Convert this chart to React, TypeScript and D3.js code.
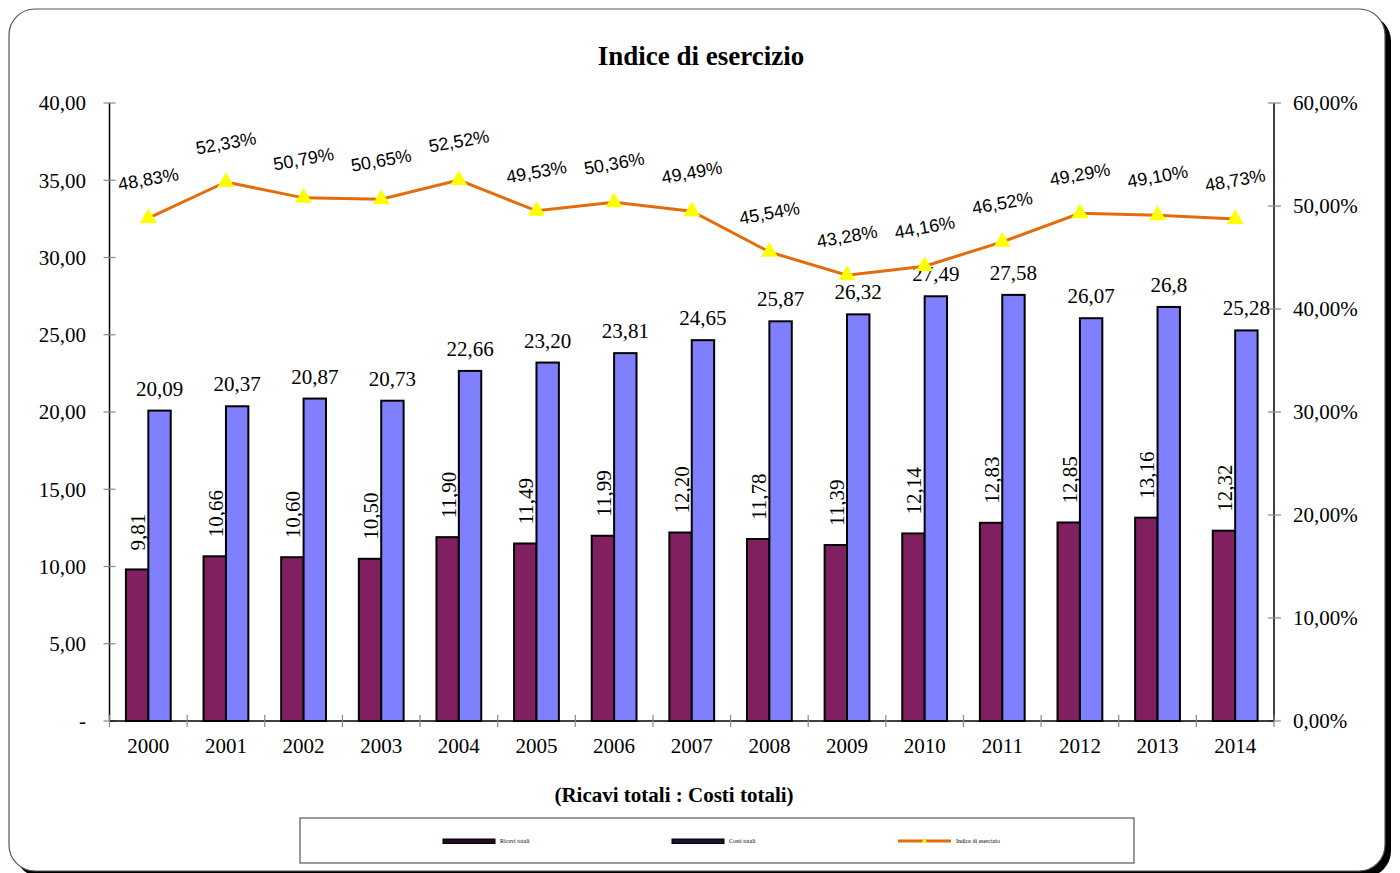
import React from "react";
import * as d3 from "d3";

const years = ["2000","2001","2002","2003","2004","2005","2006","2007","2008","2009","2010","2011","2012","2013","2014"];
const ricavi = [9.81,10.66,10.60,10.50,11.90,11.49,11.99,12.20,11.78,11.39,12.14,12.83,12.85,13.16,12.32];
const costi = [20.09,20.37,20.87,20.73,22.66,23.20,23.81,24.65,25.87,26.32,27.49,27.58,26.07,26.8,25.28];
const costiLabels = ["20,09","20,37","20,87","20,73","22,66","23,20","23,81","24,65","25,87","26,32","27,49","27,58","26,07","26,8","25,28"];
const indice = [48.83,52.33,50.79,50.65,52.52,49.53,50.36,49.49,45.54,43.28,44.16,46.52,49.29,49.10,48.73];
const leftTicks = [0,5,10,15,20,25,30,35,40];
const rightTicks = [0,10,20,30,40,50,60];

const W = 1400, H = 873;
const L = 109.5, R = 1274, T = 103, B = 721;

const fmt2 = (v: number) => d3.format(".2f")(v).replace(".", ",");

export default function App() {
  const x = d3.scaleBand<string>().domain(years).range([L, R]).paddingInner(0).paddingOuter(0);
  const yL = d3.scaleLinear().domain([0, 40]).range([B, T]);
  const yR = d3.scaleLinear().domain([0, 60]).range([B, T]);
  const bw = 22.4;
  const cx = (y: string) => (x(y) as number) + x.bandwidth() / 2;
  const line = d3.line<number>().x((_, i) => cx(years[i])).y((d) => yR(d));
  const tri = d3.symbol().type(d3.symbolTriangle).size(125)() as string;
  const serif = "'Liberation Serif', 'Times New Roman', serif";
  const sans = "'Liberation Sans', Arial, sans-serif";
  const boundaries = d3.range(years.length + 1).map((i) => L + i * x.bandwidth());

  return (
    <svg width={W} height={H} style={{ position: "absolute", left: 0, top: 0 }} xmlns="http://www.w3.org/2000/svg">
      <rect x={0} y={0} width={W} height={H} fill="#fff" />
      <rect x={15} y={15} width={1376} height={862} rx={26} ry={26} fill="#000" />
      <rect x={9} y={9} width={1376} height={862} rx={26} ry={26} fill="#fff" stroke="#555" strokeWidth={1.2} />
      <text x={701} y={65} textAnchor="middle" fontFamily={serif} fontWeight="bold" fontSize={27}>Indice di esercizio</text>

      {/* left axis */}
      <line x1={L} x2={L} y1={T} y2={B} stroke="#000" strokeWidth={1.5} />
      {leftTicks.map((t) => (
        <g key={"l" + t}>
          <line x1={L - 6} x2={L + 6} y1={yL(t)} y2={yL(t)} stroke="#888" strokeWidth={1.2} />
          <text x={86} y={yL(t)} dy="0.35em" textAnchor="end" fontFamily={serif} fontSize={21}>{t === 0 ? "-" : fmt2(t)}</text>
        </g>
      ))}
      {/* right axis */}
      <line x1={R} x2={R} y1={T} y2={B} stroke="#000" strokeWidth={1.5} />
      {rightTicks.map((t) => (
        <g key={"r" + t}>
          <line x1={R - 6} x2={R + 7} y1={yR(t)} y2={yR(t)} stroke="#888" strokeWidth={1.2} />
          <text x={1293} y={yR(t)} dy="0.35em" textAnchor="start" fontFamily={serif} fontSize={21}>{fmt2(t) + "%"}</text>
        </g>
      ))}

      {/* bars */}
      {years.map((yr, i) => (
        <g key={"b" + yr}>
          <rect x={cx(yr) - bw} y={yL(ricavi[i])} width={bw} height={B - yL(ricavi[i])} fill="#802060" stroke="#000" strokeWidth={2} />
          <rect x={cx(yr)} y={yL(costi[i])} width={bw} height={B - yL(costi[i])} fill="#8080FF" stroke="#000" strokeWidth={2} />
        </g>
      ))}

      {/* x axis */}
      <line x1={L} x2={R} y1={B} y2={B} stroke="#000" strokeWidth={1.5} />
      {boundaries.map((bx, i) => (
        <line key={"xt" + i} x1={bx} x2={bx} y1={B - 6} y2={B + 6} stroke="#888" strokeWidth={1.2} />
      ))}
      {years.map((yr) => (
        <text key={"xl" + yr} x={cx(yr)} y={753} textAnchor="middle" fontFamily={serif} fontSize={21}>{yr}</text>
      ))}

      {/* bar labels */}
      {years.map((yr, i) => (
        <g key={"bl" + yr}>
          <text x={cx(yr) + bw / 2} y={yL(costi[i]) - 15} textAnchor="middle" fontFamily={serif} fontSize={21}>{costiLabels[i]}</text>
          <text transform={`translate(${cx(yr) - bw / 2 + 8},${yL(ricavi[i]) - 19}) rotate(-90)`} textAnchor="start" fontFamily={serif} fontSize={21}>{fmt2(ricavi[i])}</text>
        </g>
      ))}

      {/* line */}
      <path d={line(indice) as string} fill="none" stroke="#E46C0A" strokeWidth={3} />
      {years.map((yr, i) => (
        <path key={"m" + yr} d={tri} transform={`translate(${cx(yr)},${yR(indice[i])})`} fill="#FFFF00" />
      ))}
      {years.map((yr, i) => (
        <text key={"pl" + yr} transform={`translate(${cx(yr)},${yR(indice[i]) - 39}) rotate(-10)`} textAnchor="middle" dy="0.35em" fontFamily={sans} fontSize={18}>{fmt2(indice[i]) + "%"}</text>
      ))}

      <text x={674} y={802} textAnchor="middle" fontFamily={serif} fontWeight="bold" fontSize={21}>(Ricavi totali : Costi totali)</text>

      {/* legend */}
      <rect x={300} y={818} width={834} height={45} fill="#fff" stroke="#555" strokeWidth={1.2} />
      <rect x={443} y={839} width={52} height={4.5} fill="#2a0820" stroke="#000" strokeWidth={1} />
      <text x={500} y={843} fontFamily={serif} fontSize={6}>Ricavi totali</text>
      <rect x={672} y={839} width={52} height={4.5} fill="#141436" stroke="#000" strokeWidth={1} />
      <text x={729} y={843} fontFamily={serif} fontSize={6}>Costi totali</text>
      <line x1={898} x2={951} y1={841} y2={841} stroke="#E46C0A" strokeWidth={3} />
      <path d={d3.symbol().type(d3.symbolTriangle).size(14)() as string} transform="translate(924.5,841)" fill="#FFFF00" />
      <text x={956} y={843} fontFamily={serif} fontSize={6}>Indice di esercizio</text>
    </svg>
  );
}
